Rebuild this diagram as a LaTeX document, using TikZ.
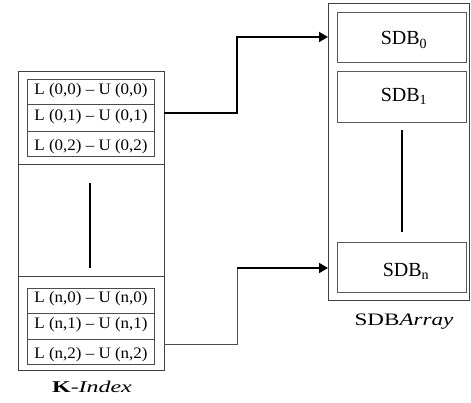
\documentclass[tikz,border=0pt]{standalone}
\usepackage{fontspec}
\setmainfont{Liberation Serif}
\usetikzlibrary{arrows.meta}
\tikzset{
  outerbox/.style={draw=black!75, line width=0.9pt, inner sep=0pt},
  rowbox/.style={draw=black!70, line width=0.8pt, inner sep=0pt, minimum width=127pt},
  rowtext/.style={font=\fontsize{16}{16}\selectfont, inner sep=0pt},
  sdbbox/.style={draw=black!65, line width=0.9pt, inner sep=0pt, minimum width=129pt, minimum height=50pt},
  sdbtext/.style={font=\fontsize{20}{20}\selectfont, inner sep=0pt},
  labeltext/.style={inner sep=0pt, anchor=base},
  thickline/.style={line width=1.8pt, black},
  thinlink/.style={line width=1pt, black!70},
  tip/.style={-{Triangle[length=9pt,width=10pt]}}
}
\newcommand{\rowlab}[1]{\scalebox{1.06}[1]{#1}}
\begin{document}
\begin{tikzpicture}[x=1pt,y=-1pt]
\useasboundingbox (0,0) rectangle (471,403);
% left outer box
\node[outerbox, minimum width=146pt, minimum height=299pt] (kidx) at (91,220.5) {};
\coordinate (d1l) at (18,164); \coordinate (d1r) at (164,164);
\coordinate (d2l) at (18,276); \coordinate (d2r) at (164,276);
\draw[outerbox] (d1l) -- (d1r);
\draw[outerbox] (d2l) -- (d2r);
% top table
\node[rowbox, minimum height=25pt] (t0) at (90.5,91.5) {};
\node[rowbox, minimum height=27pt] (t1) at (90.5,117.5) {};
\node[rowbox, minimum height=25pt] (t2) at (90.5,143.5) {};
\node[rowtext] (t0t) at (91,91) {\rowlab{L (0,0) – U (0,0)}};
\node[rowtext] (t1t) at (91,117) {\rowlab{L (0,1) – U (0,1)}};
\node[rowtext] (t2t) at (91,147) {\rowlab{L (0,2) – U (0,2)}};
% bottom table
\node[rowbox, minimum height=25pt] (b0) at (90.5,300.5) {};
\node[rowbox, minimum height=26pt] (b1) at (90.5,326) {};
\node[rowbox, minimum height=25pt] (b2) at (90.5,351.5) {};
\node[rowtext] (b0t) at (91,299) {\rowlab{L (n,0) – U (n,0)}};
\node[rowtext] (b1t) at (91,325) {\rowlab{L (n,1) – U (n,1)}};
\node[rowtext] (b2t) at (91,355) {\rowlab{L (n,2) – U (n,2)}};
% vertical ellipsis line left
\coordinate (lv1) at (90,183); \coordinate (lv2) at (90,268);
\draw[thickline] (lv1) -- (lv2);
\node[labeltext, font=\fontsize{16.5}{16.5}\selectfont] (klab) at (92,392) {\scalebox{1.45}[1]{\textbf{K}-\textit{Index}}};
% right outer box
\node[outerbox, minimum width=141pt, minimum height=297pt] (sdba) at (398.5,151.5) {};
\node[sdbbox] (s0) at (401.5,37) {};
\node[sdbbox, minimum height=51pt] (s1) at (401.5,96.5) {};
\node[sdbbox] (sn) at (401.5,267) {};
\node[sdbtext] (s0t) at (404,40) {SDB\textsubscript{0}};
\node[sdbtext] (s1t) at (404,96) {SDB\textsubscript{1}};
\node[sdbtext] (snt) at (406,271) {SDB\textsubscript{n}};
\coordinate (rv1) at (402,130); \coordinate (rv2) at (402,232);
\draw[thickline] (rv1) -- (rv2);
\node[labeltext, font=\fontsize{17.5}{17.5}\selectfont] (slab) at (404,325) {\scalebox{1.32}[1]{SDB\textit{Array}}};
% connectors
\coordinate (a1s) at (164,113);
\coordinate (a1m) at (237,37);
\coordinate (a1e) at (328,37);
\draw[thickline, tip] (a1s) -| (a1m) -- (a1e);
\coordinate (a2s) at (164,344);
\coordinate (a2m) at (237,268);
\coordinate (a2e) at (328,268);
\draw[thinlink] (a2s) -| (a2m);
\draw[thickline, tip] (a2m) -- (a2e);
\end{tikzpicture}
\end{document}
